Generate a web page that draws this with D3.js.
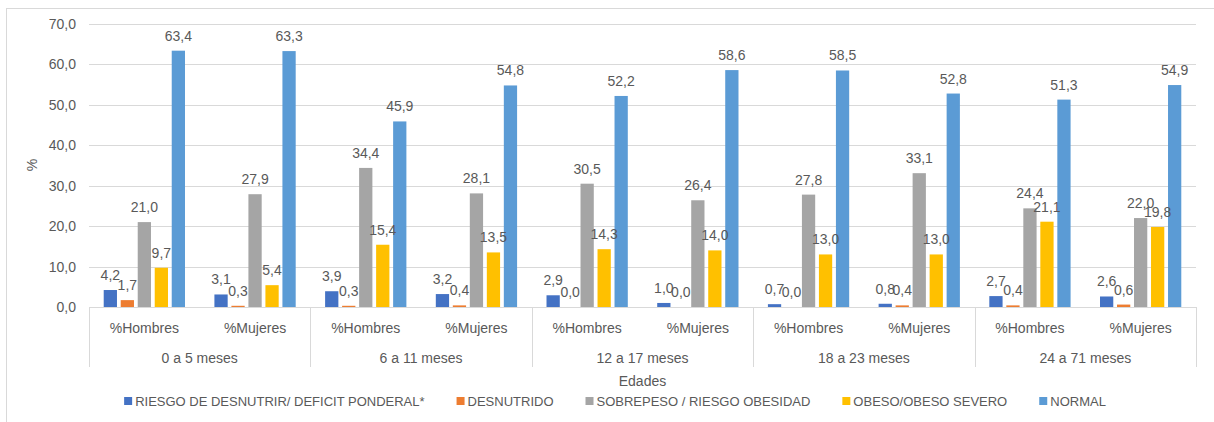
<!DOCTYPE html>
<html>
<head>
<meta charset="utf-8">
<script src="https://cdn.jsdelivr.net/npm/d3@7"></script>
<style>
  html, body { margin: 0; padding: 0; background: #fff; }
  svg { display: block; }
  text { font-family: "Liberation Sans", Arial, sans-serif; fill: #595959; }
</style>
</head>
<body>
<svg id="chart" width="1214" height="422"></svg>
<script>
const groups = ["0 a 5 meses", "6 a 11 meses", "12 a 17 meses", "18 a 23 meses", "24 a 71 meses"];
const sexes = ["%Hombres", "%Mujeres"];
const seriesNames = ["RIESGO DE DESNUTRIR/ DEFICIT PONDERAL*", "DESNUTRIDO", "SOBREPESO / RIESGO OBESIDAD", "OBESO/OBESO SEVERO", "NORMAL"];
const seriesColors = ["#4472C4", "#ED7D31", "#A5A5A5", "#FFC000", "#5B9BD5"];
const riesgo    = [4.2, 3.1, 3.9, 3.2, 2.9, 1.0, 0.7, 0.8, 2.7, 2.6];
const desnutrido = [1.7, 0.3, 0.3, 0.4, 0.0, 0.0, 0.0, 0.4, 0.4, 0.6];
const sobrepeso = [21.0, 27.9, 34.4, 28.1, 30.5, 26.4, 27.8, 33.1, 24.4, 22.0];
const obeso     = [9.7, 5.4, 15.4, 13.5, 14.3, 14.0, 13.0, 13.0, 21.1, 19.8];
const normal    = [63.4, 63.3, 45.9, 54.8, 52.2, 58.6, 58.5, 52.8, 51.3, 54.9];
const yTicks = [0, 10, 20, 30, 40, 50, 60, 70];
const yTitle = "%";
const xTitle = "Edades";

const seriesValues = [riesgo, desnutrido, sobrepeso, obeso, normal];
const categories = [];
groups.forEach(g => sexes.forEach(s => categories.push({ group: g, sex: s })));
const catIdx = categories.map((d, i) => i);

const svg = d3.select("#chart");
const pL = 89, pR = 1196, pT = 24, pB = 307;

// outer border
svg.append("rect").attr("x", 6.5).attr("y", 8.5).attr("width", 1220).attr("height", 430)
  .attr("fill", "none").attr("stroke", "#D9D9D9").attr("stroke-width", 1);

const y = d3.scaleLinear().domain([0, 70]).range([pB, pT]);
const x0 = d3.scaleBand().domain(catIdx).range([pL, pR]).padding(0);
const x1 = d3.scaleBand().domain(d3.range(seriesNames.length)).range([0, x0.bandwidth()])
  .paddingInner(0.22).paddingOuter(0.865);
const xg = d3.scaleBand().domain(groups).range([pL, pR]).padding(0);

const fmt = v => d3.format(".1f")(v).replace(".", ",");

// gridlines
svg.append("g").selectAll("line").data(yTicks.filter(t => t > 0)).join("line")
  .attr("x1", pL).attr("x2", pR)
  .attr("y1", d => Math.round(y(d)) + 0.5).attr("y2", d => Math.round(y(d)) + 0.5)
  .attr("stroke", "#D9D9D9").attr("stroke-width", 1);

// y tick labels
svg.append("g").selectAll("text").data(yTicks).join("text")
  .attr("x", 76).attr("y", d => y(d) + 5)
  .attr("text-anchor", "end").attr("font-size", 14)
  .text(d => fmt(d));

// y title
svg.append("text").attr("transform", "translate(37,165) rotate(-90)")
  .attr("text-anchor", "middle").attr("font-size", 14).text(yTitle);

// bars
const data = [];
catIdx.forEach(ci => seriesValues.forEach((arr, si) => data.push({ ci, si, v: arr[ci] })));
svg.append("g").selectAll("rect").data(data).join("rect")
  .attr("x", d => x0(d.ci) + x1(d.si))
  .attr("width", x1.bandwidth())
  .attr("y", d => y(d.v))
  .attr("height", d => pB - y(d.v))
  .attr("fill", d => seriesColors[d.si]);

// data labels
svg.append("g").selectAll("text").data(data).join("text")
  .attr("x", d => x0(d.ci) + x1(d.si) + x1.bandwidth() / 2)
  .attr("y", d => y(d.v) - 10)
  .attr("text-anchor", "middle").attr("font-size", 14)
  .text(d => fmt(d.v));

// category axis baseline
svg.append("line").attr("x1", pL).attr("x2", pR)
  .attr("y1", pB + 0.5).attr("y2", pB + 0.5)
  .attr("stroke", "#D9D9D9").attr("stroke-width", 1);

// group separators
const seps = groups.map(g => xg(g)).concat([pR]);
svg.append("g").selectAll("line").data(seps).join("line")
  .attr("x1", d => Math.round(d) + 0.5).attr("x2", d => Math.round(d) + 0.5)
  .attr("y1", pB).attr("y2", 367)
  .attr("stroke", "#D9D9D9").attr("stroke-width", 1);

// sex labels
svg.append("g").selectAll("text").data(catIdx).join("text")
  .attr("x", d => x0(d) + x0.bandwidth() / 2).attr("y", 333)
  .attr("text-anchor", "middle").attr("font-size", 14)
  .text(d => categories[d].sex);

// group labels
svg.append("g").selectAll("text").data(groups).join("text")
  .attr("x", d => xg(d) + xg.bandwidth() / 2).attr("y", 363)
  .attr("text-anchor", "middle").attr("font-size", 14)
  .text(d => d);

// x title
svg.append("text").attr("x", (pL + pR) / 2).attr("y", 386)
  .attr("text-anchor", "middle").attr("font-size", 14).text(xTitle);

// legend
const lg = svg.append("g");
const items = lg.selectAll("g").data(seriesNames).join("g");
items.append("rect").attr("width", 8).attr("height", 8).attr("y", 397)
  .attr("fill", (d, i) => seriesColors[i]);
items.append("text").attr("x", 11).attr("y", 406).attr("font-size", 13).text(d => d);
let xpos = 0;
const widths = [];
items.each(function() {
  widths.push(d3.select(this).select("text").node().getComputedTextLength());
});
const gap = 32;
const offsets = [];
widths.forEach((w, i) => { offsets.push(xpos); xpos += 11 + w + gap; });
const total = xpos - gap;
const start = 615 - total / 2;
items.attr("transform", (d, i) => `translate(${start + offsets[i]},0)`);
</script>
</body>
</html>
